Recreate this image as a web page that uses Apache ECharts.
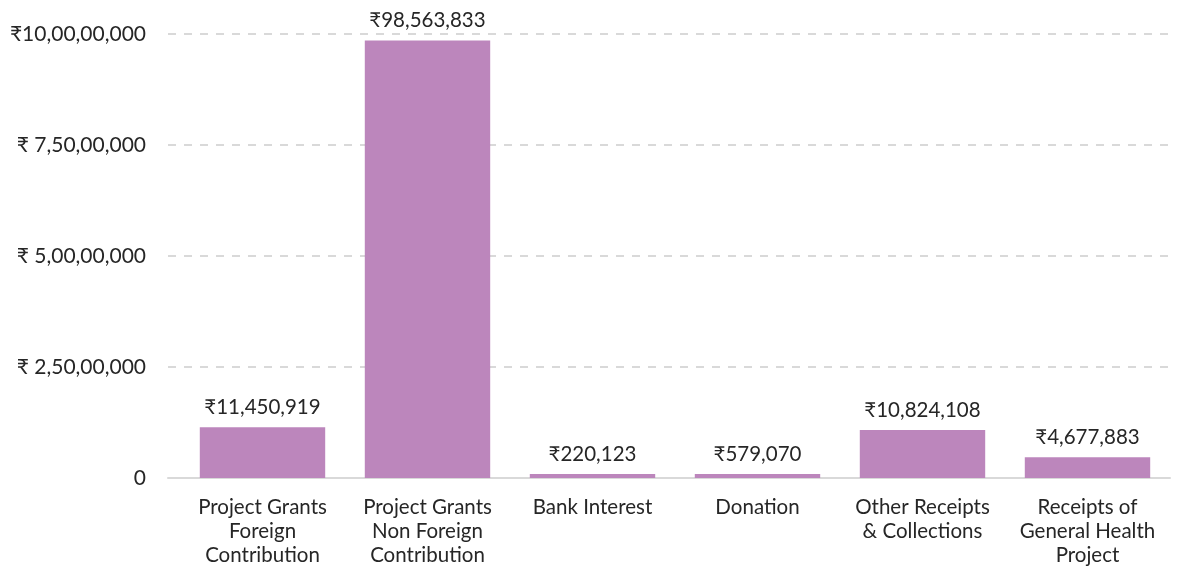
<!DOCTYPE html>
<html><head><meta charset="utf-8">
<script src="https://cdn.jsdelivr.net/npm/echarts@6/dist/echarts.min.js"></script>
<style>html,body{margin:0;padding:0;background:#fff}#c{width:1192px;height:570px}</style>
</head><body><div id="c"></div>
<script>
const categories = ["Project Grants\nForeign\nContribution", "Project Grants\nNon Foreign\nContribution", "Bank Interest", "Donation", "Other Receipts\n& Collections", "Receipts of\nGeneral Health\nProject"];
const values = [11450919, 98563833, 220123, 579070, 10824108, 4677883];
const valueLabels = ["₹11,450,919", "₹98,563,833", "₹220,123", "₹579,070", "₹10,824,108", "₹4,677,883"];
const tickValues = [0, 25000000, 50000000, 75000000, 100000000];
const tickLabels = ["0", "₹ 2,50,00,000", "₹ 5,00,00,000", "₹ 7,50,00,000", "₹10,00,00,000"];

const font = 'Lato, "Noto Sans", sans-serif';
const yMax = 100000000, yStep = 25000000;
const chart = echarts.init(document.getElementById('c'));
chart.setOption({
  animation: false,
  grid: [
    {left: 168, right: 22, top: 34, bottom: 92},
    {left: 180, right: 22, top: 34, bottom: 92}
  ],
  xAxis: [
    {gridIndex: 0, type: 'value', min: 0, max: 1, show: true,
      axisLine: {show: true, lineStyle: {color: '#D9D9D9', width: 2}},
      axisTick: {show: false}, axisLabel: {show: false}, splitLine: {show: false}},
    {gridIndex: 1, type: 'category', data: categories,
      axisLine: {show: false}, axisTick: {show: false},
      axisLabel: {color: '#262626', fontFamily: font, fontSize: 20.5, lineHeight: 24, margin: 17, interval: 0}}
  ],
  yAxis: [
    {gridIndex: 0, type: 'value', min: 0, max: yMax, interval: yStep,
      axisLine: {show: false}, axisTick: {show: false},
      splitLine: {show: true, lineStyle: {color: '#D9D9D9', width: 2, type: [8, 8]}},
      axisLabel: {color: '#262626', fontFamily: font, fontSize: 21, margin: 22,
        formatter: v => { const i = tickValues.indexOf(v); return i >= 0 ? tickLabels[i] : ''; }}},
    {gridIndex: 1, type: 'value', min: 0, max: yMax, interval: yStep, show: false, splitLine: {show: false}}
  ],
  series: [{
    type: 'bar', xAxisIndex: 1, yAxisIndex: 1, data: values, barCategoryGap: '24%', barMinHeight: 4,
    itemStyle: {color: '#BC86BC'},
    label: {show: true, position: 'top', distance: 9, color: '#262626', fontFamily: font, fontSize: 20.5,
      formatter: p => valueLabels[p.dataIndex]}
  }]
});
</script></body></html>
